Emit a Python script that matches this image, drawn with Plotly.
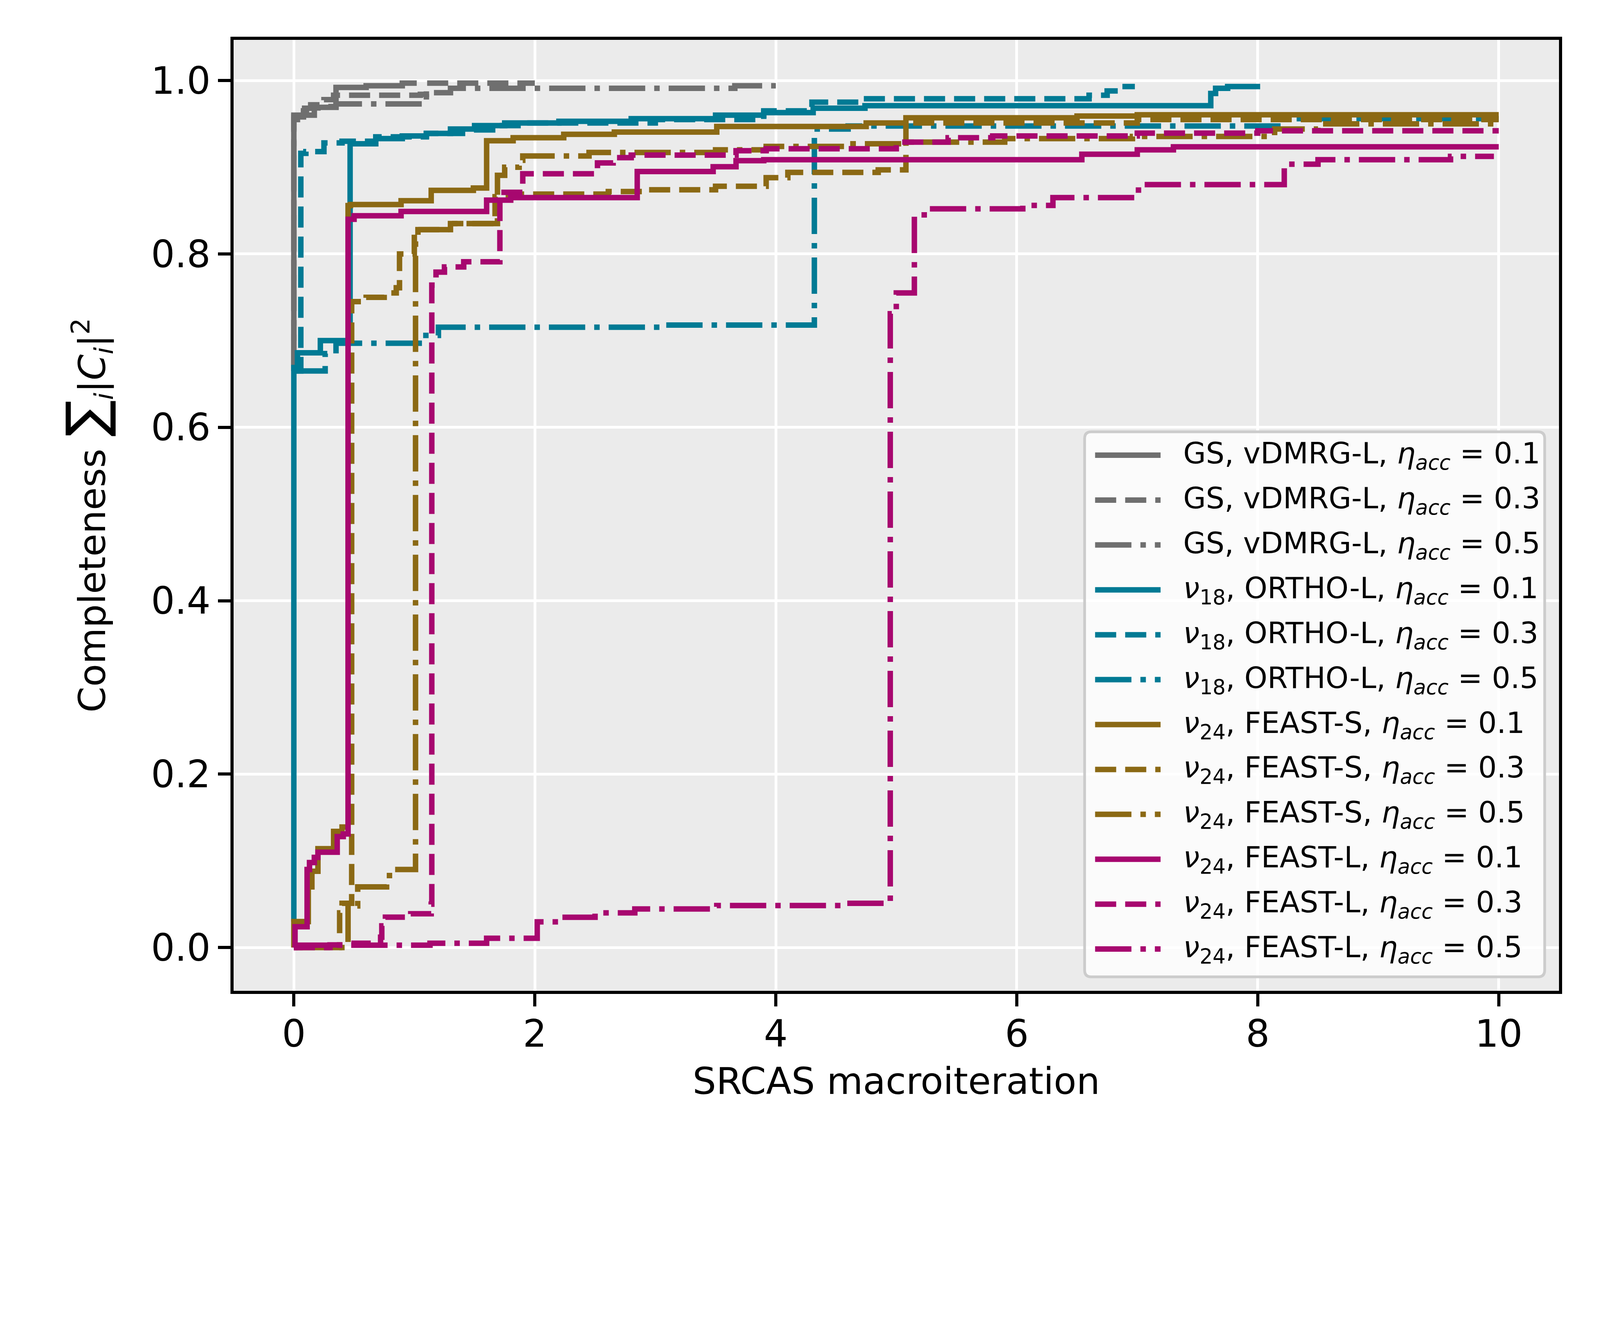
import plotly.graph_objects as go

# step curves: completeness vs SRCAS macroiteration
gs_01_x = [0, 0, 0.17, 0.35, 0.6, 0.9, 1.02]
gs_01_y = [0.665, 0.960, 0.969, 0.992, 0.994, 0.997, 0.997]
gs_03_x = [0, 0, 0.03, 0.14, 0.25, 0.33, 1.05, 1.1, 2.0]
gs_03_y = [0.665, 0.955, 0.968, 0.972, 0.978, 0.983, 0.984, 0.997, 0.997]
gs_05_x = [0, 0, 0.08, 0.2, 0.35, 1.08, 1.1, 1.3, 3.66, 4.0]
gs_05_y = [0.665, 0.958, 0.965, 0.970, 0.973, 0.975, 0.986, 0.991, 0.994, 0.994]

ortho_01_x = [0, 0, 0.03, 0.22, 0.467, 0.68, 0.9, 1.1, 1.3, 1.5, 1.75, 2.2, 2.8, 3.5, 3.9, 4.31, 4.74, 7.61, 7.65, 7.75, 8.02]
ortho_01_y = [0.03, 0.669, 0.686, 0.70, 0.927, 0.933, 0.936, 0.939, 0.944, 0.948, 0.951, 0.953, 0.956, 0.960, 0.963, 0.968, 0.971, 0.985, 0.991, 0.993, 0.993]
ortho_03_x = [0, 0.058, 0.1, 0.25, 0.4, 0.68, 1.1, 1.4, 1.65, 1.92, 3.0, 3.9, 4.3, 4.73, 6.6, 6.75, 6.85, 6.98]
ortho_03_y = [0.665, 0.916, 0.918, 0.928, 0.930, 0.935, 0.939, 0.943, 0.948, 0.951, 0.955, 0.965, 0.975, 0.979, 0.983, 0.988, 0.993, 0.993]
ortho_05_x = [0, 0.26, 0.35, 1.07, 1.2, 3.08, 4.32, 4.6, 8.2, 10.0]
ortho_05_y = [0.665, 0.685, 0.697, 0.706, 0.7155, 0.718, 0.944, 0.9475, 0.956, 0.956]

feasts_01_x = [0, 0, 0.12, 0.15, 0.2, 0.33, 0.4, 0.45, 0.47, 0.89, 1.14, 1.49, 1.6, 1.82, 2.24, 2.66, 3.51, 4.75, 5.08, 6.5, 7.0, 10.0]
feasts_01_y = [0.0, 0.03, 0.07, 0.088, 0.114, 0.134, 0.139, 0.8557, 0.857, 0.8614, 0.8733, 0.876, 0.9305, 0.934, 0.938, 0.9405, 0.947, 0.951, 0.957, 0.959, 0.9605, 0.9605]
feasts_03_x = [0, 0.38, 0.4, 0.48, 0.6, 0.75, 0.85, 0.877, 1.0, 1.3, 1.67, 1.87, 2.61, 2.93, 3.5, 3.92, 4.1, 4.85, 5.08, 7.0, 10.0]
feasts_03_y = [0.0, 0.04, 0.051, 0.745, 0.75, 0.755, 0.761, 0.80, 0.828, 0.835, 0.866, 0.869, 0.872, 0.874, 0.878, 0.888, 0.894, 0.897, 0.951, 0.955, 0.955]
feasts_05_x = [0, 0.45, 0.53, 0.77, 0.84, 1.01, 1.03, 1.29, 1.69, 1.75, 1.87, 1.9, 2.45, 3.5, 3.92, 4.64, 5.1, 5.9, 6.96, 8.14, 8.5, 10.0]
feasts_05_y = [0.0, 0.048, 0.07, 0.083, 0.09, 0.82, 0.828, 0.835, 0.8906, 0.90, 0.908, 0.913, 0.917, 0.92, 0.924, 0.927, 0.929, 0.933, 0.9355, 0.944, 0.95, 0.95]

feastl_01_x = [0, 0.01, 0.11, 0.13, 0.17, 0.2, 0.36, 0.41, 0.45, 0.5, 0.89, 1.6, 1.8, 2.85, 3.48, 3.67, 3.9, 6.54, 7.0, 7.3, 10.0]
feastl_01_y = [0.0, 0.024, 0.09, 0.098, 0.104, 0.11, 0.128, 0.131, 0.84, 0.844, 0.849, 0.862, 0.865, 0.895, 0.9006, 0.9075, 0.9087, 0.915, 0.92, 0.9236, 0.9236]
feastl_03_x = [0, 0.3, 0.5, 0.72, 0.73, 0.76, 0.97, 1.14, 1.145, 1.18, 1.25, 1.41, 1.71, 1.9, 2.52, 2.65, 2.8, 3.67, 3.92, 5.0, 5.43, 5.8, 7.0, 8.0, 10.0]
feastl_03_y = [0.0, 0.003, 0.005, 0.012, 0.025, 0.035, 0.039, 0.05, 0.764, 0.779, 0.785, 0.791, 0.871, 0.8925, 0.905, 0.911, 0.914, 0.919, 0.9213, 0.929, 0.934, 0.936, 0.9393, 0.942, 0.942]
feastl_05_x = [0, 0.05, 1.13, 1.6, 2.02, 2.21, 2.5, 2.83, 3.51, 4.58, 4.95, 5.0, 5.15, 5.26, 6.05, 6.3, 7.01, 8.22, 8.5, 9.6, 9.96]
feastl_05_y = [0.0, 0.0027, 0.005, 0.0107, 0.0296, 0.0349, 0.04, 0.0445, 0.0485, 0.051, 0.731, 0.755, 0.845, 0.852, 0.856, 0.865, 0.88, 0.9035, 0.9087, 0.9125, 0.9125]

x_ticks = [0, 2, 4, 6, 8, 10]
y_ticks = [0.0, 0.2, 0.4, 0.6, 0.8, 1.0]

GREY = "#6F6F6F"
TEAL = "#007A94"
BROWN = "#8B6914"
MAGENTA = "#A7076F"

# the page shows up ~1.17x larger than css px, so everything is sized down
W, H = 4080, 2920
ML, MR, MT, MB = 590, 97, 94, 392
PW, PH = W - ML - MR, H - MT - MB

LW = 14
DASHES = {"solid": "solid", "dashed": "54px,23px", "dashdot": "93px,23px,14px,23px"}
ETA = "<i>η</i><sub><i>acc</i></sub> = "

series = [
    (gs_01_x, gs_01_y, GREY, "solid", "GS, vDMRG-L, " + ETA + "0.1"),
    (gs_03_x, gs_03_y, GREY, "dashed", "GS, vDMRG-L, " + ETA + "0.3"),
    (gs_05_x, gs_05_y, GREY, "dashdot", "GS, vDMRG-L, " + ETA + "0.5"),
    (ortho_01_x, ortho_01_y, TEAL, "solid", "<i>ν</i><sub>18</sub>, ORTHO-L, " + ETA + "0.1"),
    (ortho_03_x, ortho_03_y, TEAL, "dashed", "<i>ν</i><sub>18</sub>, ORTHO-L, " + ETA + "0.3"),
    (ortho_05_x, ortho_05_y, TEAL, "dashdot", "<i>ν</i><sub>18</sub>, ORTHO-L, " + ETA + "0.5"),
    (feasts_01_x, feasts_01_y, BROWN, "solid", "<i>ν</i><sub>24</sub>, FEAST-S, " + ETA + "0.1"),
    (feasts_03_x, feasts_03_y, BROWN, "dashed", "<i>ν</i><sub>24</sub>, FEAST-S, " + ETA + "0.3"),
    (feasts_05_x, feasts_05_y, BROWN, "dashdot", "<i>ν</i><sub>24</sub>, FEAST-S, " + ETA + "0.5"),
    (feastl_01_x, feastl_01_y, MAGENTA, "solid", "<i>ν</i><sub>24</sub>, FEAST-L, " + ETA + "0.1"),
    (feastl_03_x, feastl_03_y, MAGENTA, "dashed", "<i>ν</i><sub>24</sub>, FEAST-L, " + ETA + "0.3"),
    (feastl_05_x, feastl_05_y, MAGENTA, "dashdot", "<i>ν</i><sub>24</sub>, FEAST-L, " + ETA + "0.5"),
]

fig = go.Figure()
for xs, ys, color, style, label in series:
    fig.add_trace(go.Scatter(
        x=xs, y=ys, name=label, mode="lines", showlegend=False,
        line=dict(color=color, width=LW, dash=DASHES[style], shape="hv"),
    ))

# legend drawn by hand (matplotlib-like long line samples), paper coords
box_x0, box_x1 = 0.6421, 0.9892
box_y0, box_y1 = 0.0147, 0.5878
rx, ry = 17 / PW, 17 / PH
box_path = (
    f"M{box_x0 + rx},{box_y0} L{box_x1 - rx},{box_y0} Q{box_x1},{box_y0} {box_x1},{box_y0 + ry} "
    f"L{box_x1},{box_y1 - ry} Q{box_x1},{box_y1} {box_x1 - rx},{box_y1} "
    f"L{box_x0 + rx},{box_y1} Q{box_x0},{box_y1} {box_x0},{box_y1 - ry} "
    f"L{box_x0},{box_y0 + ry} Q{box_x0},{box_y0} {box_x0 + rx},{box_y0} Z"
)
fig.add_shape(type="path", path=box_path, xref="paper", yref="paper",
              fillcolor="rgba(255,255,255,0.8)", line=dict(color="#CCCCCC", width=7))

row0 = (2972 - 1365) / 2853
row_step = 134.7 / 2853
for i, (_, _, color, style, label) in enumerate(series):
    yy = row0 - i * row_step
    fig.add_shape(type="line", xref="paper", yref="paper",
                  x0=0.650, x1=0.6994, y0=yy, y1=yy,
                  line=dict(color=color, width=LW, dash=DASHES[style]))
    fig.add_annotation(x=0.716, y=yy, xref="paper", yref="paper",
                       text=label, showarrow=False, xanchor="left", yanchor="middle",
                       font=dict(family="DejaVu Sans", size=75, color="black"))

FONT = "DejaVu Sans"
fig.update_layout(
    width=W, height=H,
    margin=dict(l=ML, r=MR, t=MT, b=MB, pad=0),
    paper_bgcolor="white",
    plot_bgcolor="#EBEBEB",
    font=dict(family=FONT, size=96, color="black"),
    showlegend=False,
)
fig.update_xaxes(
    range=[-0.5, 10.5], tickvals=x_ticks, ticktext=[str(v) for v in x_ticks],
    showgrid=True, gridcolor="white", gridwidth=7, zeroline=False,
    showline=True, linecolor="black", linewidth=7.5, mirror=True,
    ticks="outside", ticklen=32, tickwidth=7.5, tickcolor="black",
    ticklabelstandoff=-12,
    title=dict(text="SRCAS macroiteration", standoff=36,
               font=dict(family=FONT, size=95, color="black")),
)
fig.update_yaxes(
    range=[-0.0499, 1.0469], tickvals=y_ticks, ticktext=["%.1f" % v for v in y_ticks],
    showgrid=True, gridcolor="white", gridwidth=7, zeroline=False,
    showline=True, linecolor="black", linewidth=7.5, mirror=True,
    ticks="outside", ticklen=32, tickwidth=7.5, tickcolor="black",
    ticklabelstandoff=0,
    title=dict(text="Completeness <span style='font-size:140px'>∑</span><sub><i>i</i></sub>|<i>C<sub>i</sub></i>|<sup>2</sup>",
               standoff=88, font=dict(family=FONT, size=95, color="black")),
)

fig.write_html("out.html")
